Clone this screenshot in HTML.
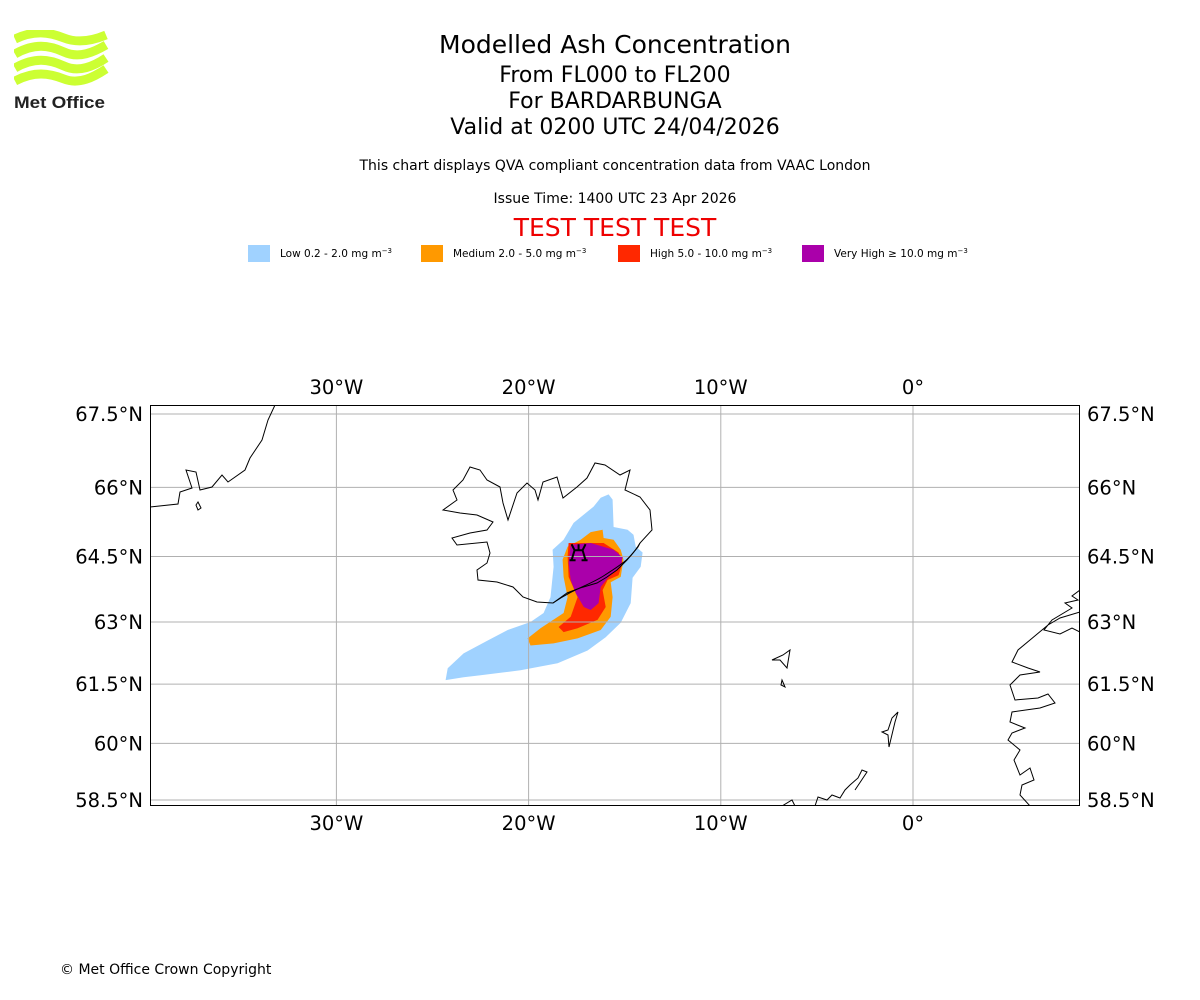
<!DOCTYPE html>
<html><head><meta charset="utf-8"><style>
html,body{margin:0;padding:0;background:#fff;}
body{width:1200px;height:1000px;position:relative;font-family:"DejaVu Sans","Liberation Sans",sans-serif;overflow:hidden;}
.t{position:absolute;left:0;width:1230px;text-align:center;color:#000;}
</style></head><body>
<div style="position:absolute;left:14px;top:30px;width:95px;height:82px;">
<svg width="95" height="82">
<g fill="none" stroke="#ccff33" stroke-width="9">
<path d="M1,9 C20,0 35,2 50,8 S80,10 92,5"/>
<path d="M1,24 C20,13 35,15 50,22 S80,22 92,15"/>
<path d="M1,38 C20,27 35,29 50,36 S80,36 92,28"/>
<path d="M1,51 C20,41 35,43 50,49 S80,47 92,39"/>
</g>
<text x="0" y="78" font-size="17" font-weight="bold" fill="#222" font-family="Liberation Sans, sans-serif" textLength="91" lengthAdjust="spacingAndGlyphs">Met Office</text>
</svg></div>
<div class="t" style="top:30px;font-size:25px;">Modelled Ash Concentration</div>
<div class="t" style="top:63px;font-size:22px;">From FL000 to FL200</div>
<div class="t" style="top:89px;font-size:22px;">For BARDARBUNGA</div>
<div class="t" style="top:115px;font-size:22px;">Valid at 0200 UTC 24/04/2026</div>
<div class="t" style="top:158px;font-size:14px;">This chart displays QVA compliant concentration data from VAAC London</div>
<div class="t" style="top:191px;font-size:14px;">Issue Time: 1400 UTC 23 Apr 2026</div>
<div class="t" style="top:213px;font-size:25px;color:#ee0000;">TEST TEST TEST</div>
<div style="position:absolute;left:60px;top:962px;font-size:14px;">© Met Office Crown Copyright</div>

<svg id="chart" width="1200" height="1000" style="position:absolute;left:0;top:0"></svg>
<script>
const legendLabels=["Low 0.2 - 2.0 mg m","Medium 2.0 - 5.0 mg m","High 5.0 - 10.0 mg m","Very High  \u2265  10.0 mg m"];
const legendColors=["#a0d2ff","#ff9900","#ff2800","#aa00aa"];
const lonTicks=[-30,-20,-10,0];
const latTicks=[58.5,60,61.5,63,64.5,66,67.5];
const lowLon=[-15.84,-15.63,-15.58,-14.85,-14.54,-14.43,-14.07,-14.17,-14.59,-14.69,-15.21,-15.99,-16.93,-18.49,-20.42,-21.30,-22.50,-23.38,-24.32,-24.21,-23.38,-22.13,-21.09,-19.90,-19.22,-18.86,-18.70,-18.75,-18.18,-17.66,-16.62,-16.25];
const lowLat=[65.85,65.74,65.15,65.09,64.98,64.72,64.59,64.27,64.02,63.44,62.98,62.64,62.32,62.01,61.84,61.79,61.72,61.67,61.60,61.89,62.25,62.56,62.81,63.0,63.21,63.58,64.27,64.65,64.87,65.24,65.59,65.78];
const medLon=[-16.77,-16.15,-16.10,-15.58,-15.21,-15.06,-15.21,-15.73,-15.63,-15.73,-16.25,-17.45,-18.70,-19.90,-20.05,-19.38,-18.18,-17.97,-18.18,-18.23,-17.97,-17.29];
const medLat=[65.04,65.09,64.91,64.87,64.65,64.43,64.04,63.92,63.58,63.12,62.81,62.61,62.49,62.44,62.61,62.85,63.21,63.58,64.04,64.43,64.72,64.87];
const highLon=[-17.92,-16.10,-15.32,-15.11,-15.32,-15.89,-16.15,-15.99,-16.41,-17.45,-18.18,-18.44,-17.81,-17.45,-17.92,-17.97];
const highLat=[64.80,64.80,64.59,64.36,64.08,63.97,63.74,63.35,63.05,62.85,62.76,62.88,63.12,63.58,64.04,64.5];
const vhighLon=[-17.81,-16.77,-15.58,-15.11,-15.21,-15.84,-16.25,-16.36,-16.77,-17.13,-17.55,-17.81,-17.92];
const vhighLat=[64.76,64.80,64.65,64.48,64.27,64.04,63.81,63.44,63.28,63.35,63.67,63.97,64.36];
const volcanoLon=-17.4, volcanoLat=64.64;

const NS="http://www.w3.org/2000/svg";
const svg=document.getElementById('chart');
const X0=150,X1=1080,Y0=405,Y1=806;
function mercY(lat){return Math.log(Math.tan(Math.PI/4+lat*Math.PI/360));}
const KY=386/(mercY(67.5)-mercY(58.5));
function px(lon){return 913+lon*19.22;}
function py(lat){return 414+(mercY(67.5)-mercY(lat))*KY;}
function mk(tag,attrs){const e=document.createElementNS(NS,tag);for(const k in attrs)e.setAttribute(k,attrs[k]);svg.appendChild(e);return e;}

legendLabels.forEach((lab,i)=>{
  const xs=[248,421,618,802][i];
  const r=mk('rect',{x:xs,y:245,width:22,height:17,fill:legendColors[i]});
  
  
  const t=mk('text',{x:xs+32,y:257,'font-size':10.5,fill:'#000','xml:space':'preserve'});
  t.textContent=lab;
  const s=document.createElementNS(NS,'tspan');s.setAttribute('dy','-4');s.setAttribute('font-size','7');s.textContent='\u22123';t.appendChild(s);
  
  
});

const defs=mk('defs',{});
const cp=document.createElementNS(NS,'clipPath');cp.setAttribute('id','mapclip');
const cr=document.createElementNS(NS,'rect');cr.setAttribute('x',X0);cr.setAttribute('y',Y0);cr.setAttribute('width',X1-X0);cr.setAttribute('height',Y1-Y0);
cp.appendChild(cr);defs.appendChild(cp);
const g=mk('g',{'clip-path':'url(#mapclip)'});


function gadd(tag,attrs){const e=document.createElementNS(NS,tag);for(const k in attrs)e.setAttribute(k,attrs[k]);g.appendChild(e);return e;}

[[lowLon,lowLat,0,'ash-low'],[medLon,medLat,1,'ash-medium'],[highLon,highLat,2,'ash-high'],[vhighLon,vhighLat,3,'ash-very-high']].forEach(([lo,la,ci,nm])=>{
  const pts=lo.map((v,i)=>px(v).toFixed(1)+','+py(la[i]).toFixed(1)).join(' ');
  const p=gadd('polygon',{points:pts,fill:legendColors[ci]});
  
  
});

lonTicks.forEach(l=>{const ln=gadd('line',{x1:px(l),x2:px(l),y1:Y0,y2:Y1,stroke:'#b0b0b0','stroke-width':1});
  });
latTicks.forEach(l=>{const ln=gadd('line',{x1:X0,x2:X1,y1:py(l),y2:py(l),stroke:'#b0b0b0','stroke-width':1});
  });

const coasts=[
"M443,510 L457,500 453,490 463,480 470,467 480,470 487,480 500,487 503,503 508,520 517,493 527,483 535,490 538,500 543,482 557,477 563,498 577,487 587,478 595,463 605,465 620,475 630,470 625,490 640,497 650,510 652,530 640,543 638,547 633,553 627,560 617,570 607,577 597,583 580,588 567,593 553,603 537,602 523,597 513,587 497,582 478,580 477,570 487,563 490,553 487,542 457,545 452,538 470,533 487,530 493,522 477,515 460,513 443,510 Z",
"M150,507 L178,504 180,492 192,488 186,470 196,472 200,490 212,487 222,475 228,482 245,470 250,458 262,440 268,420 275,405",
"M198,502 L201,508 198,510 196,505 Z",
"M772,660 L783,655 790,650 787,668 780,660 Z M782,680 L785,687 781,685 Z",
"M888,730 L892,718 898,712 895,722 889,747 888,735 882,732 Z",
"M782,806 L792,800 795,806 M815,806 L818,797 827,800 832,795 840,798 845,790 850,785 858,778 862,770 867,772 855,790",
"M1080,590 L1072,596 1078,600 1065,603 1072,608 1052,620 1044,630 1060,634 1072,628 1080,632 M1080,612 L1060,618 1048,625 1030,640 1018,650 1012,662 1028,668 1040,672 1020,675 1010,685 1015,700 1038,698 1048,694 1055,703 1040,708 1012,712 1010,722 1025,728 1012,733 1008,740 1020,750 1014,760 1020,775 1030,768 1034,780 1022,785 1020,795 1030,806"
];
coasts.forEach((d,i)=>{const p=gadd('path',{d:d,fill:'none',stroke:'#000','stroke-width':1});
  });
const fl=gadd('path',{d:'M553,603 C575,588 590,585 605,575 S630,560 640,543',fill:'none',stroke:'#000','stroke-width':1});


const vx=px(volcanoLon),vy=py(volcanoLat);
const vs=gadd('path',{d:`M${vx-7},${vy+10} L${vx-4},${vy} L${vx+4},${vy} L${vx+7},${vy+10} M${vx-9},${vy+10} h6 M${vx+3},${vy+10} h6 M${vx-4},${vy} l-3,-6 M${vx},${vy} v-6 M${vx+4},${vy} l3,-6`,fill:'none',stroke:'#000','stroke-width':2});


const fr=mk('rect',{x:X0+0.5,y:Y0+0.5,width:X1-X0-1,height:Y1-Y0-1,fill:'none',stroke:'#000','stroke-width':1});


function lonLab(l){return l===0?'0\u00b0':Math.abs(l)+'\u00b0W';}
lonTicks.forEach(l=>{[394,830].forEach((y,j)=>{
  const t=mk('text',{x:px(l),y:y,'font-size':19.5,'text-anchor':'middle',fill:'#000'});t.textContent=lonLab(l);
  });});
latTicks.forEach(l=>{
  const t1=mk('text',{x:143,y:py(l)+7,'font-size':19.5,'text-anchor':'end',fill:'#000'});t1.textContent=l+'\u00b0N';
  
  const t2=mk('text',{x:1087,y:py(l)+7,'font-size':19.5,'text-anchor':'start',fill:'#000'});t2.textContent=l+'\u00b0N';
  
});
</script>
</body></html>
